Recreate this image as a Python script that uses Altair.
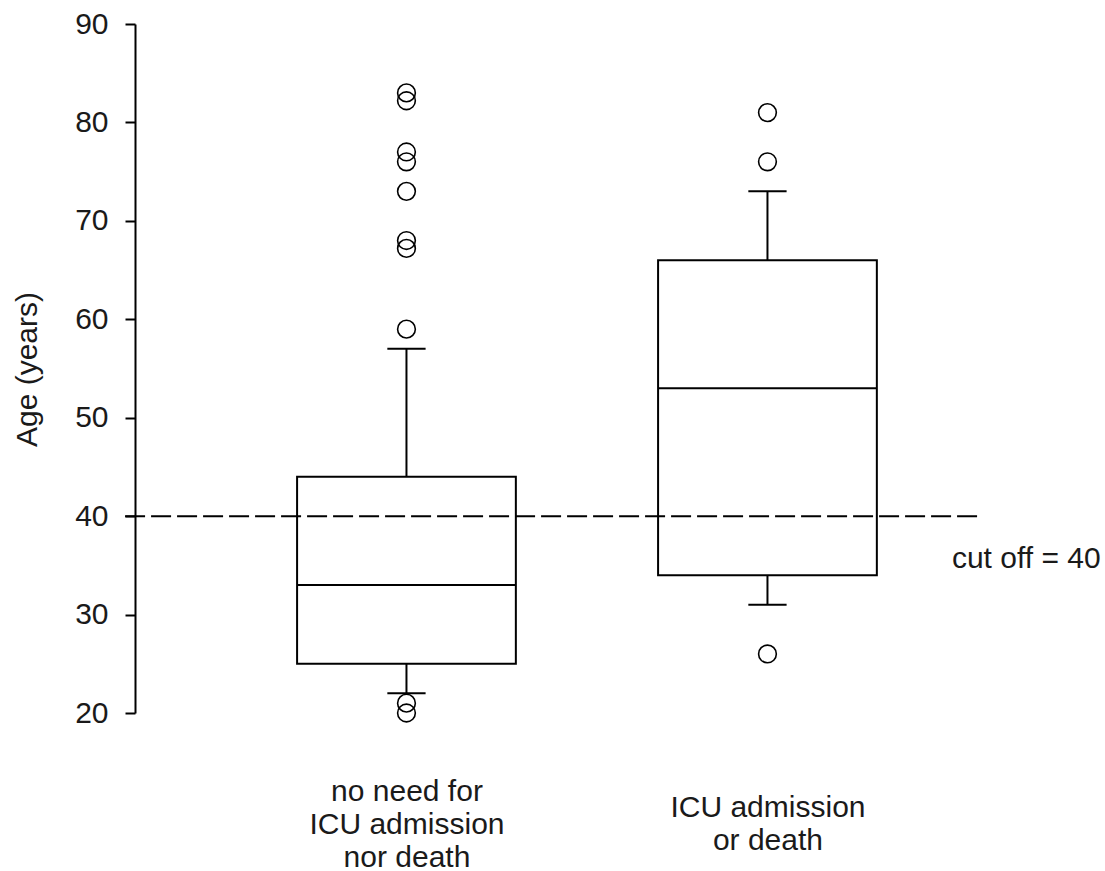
import json
import altair as alt
import pandas as pd

# Two outcome groups, with their axis label lines
groups = ["no need for ICU admission nor death", "ICU admission or death"]
group_lines = [["no need for", "ICU admission", "nor death"], ["ICU admission", "or death"]]

# Box-plot statistics (age, years)
q1 = [25, 34]
median = [33, 53]
q3 = [44, 66]
whisker_low = [22, 31]
whisker_high = [57, 73]
outliers = [
    [83, 82.2, 77, 76, 73, 68, 67.2, 59, 21, 20],
    [81, 76, 26],
]

cutoff = 40
cutoff_label = "cut off = 40"
y_ticks = [20, 30, 40, 50, 60, 70, 80, 90]

# Geometry in x-scale units (groups sit at 1 and 2)
BOX_HALF = 0.303
CAP_HALF = 0.053
X_DOMAIN = [0.248, 2.935]
CUT_SPAN = [0.2205, 2.597]
CUT_LABEL_X = 2.511

FONT = "Liberation Sans"
FONT_SIZE = 30
LINE_HEIGHT = 33
INK = "#1a1a1a"

positions = [i + 1 for i in range(len(groups))]
stats = pd.DataFrame({
    "group": groups,
    "pos": positions,
    "left": [p - BOX_HALF for p in positions],
    "right": [p + BOX_HALF for p in positions],
    "cap_l": [p - CAP_HALF for p in positions],
    "cap_r": [p + CAP_HALF for p in positions],
    "q1": q1,
    "median": median,
    "q3": q3,
    "lo": whisker_low,
    "hi": whisker_high,
})
points = pd.DataFrame(
    [{"group": g, "pos": p, "age": v} for g, p, vals in zip(groups, positions, outliers) for v in vals]
)

# Multi-line category labels, each block centred on the same line below the plot
label_expr = " : ".join(
    f"datum.value == {p} ? {json.dumps(lines)}" for p, lines in zip(positions[:-1], group_lines[:-1])
) + f" : {json.dumps(group_lines[-1])}"
LABEL_CENTRE = 111
pads = [LABEL_CENTRE - (len(lines) - 1) * LINE_HEIGHT / 2 for lines in group_lines]
label_padding = {
    "condition": {"test": f"datum.value == {positions[0]}", "value": pads[0]},
    "value": pads[1],
}

x_scale = alt.Scale(domain=X_DOMAIN, nice=False, zero=False)
x_axis = alt.Axis(
    values=positions, labelExpr=label_expr, domain=False, ticks=False, grid=False,
    labelFont=FONT, labelFontSize=FONT_SIZE, labelColor=INK, labelLineHeight=LINE_HEIGHT,
    labelBaseline="middle", labelAlign="center", labelPadding=label_padding,
    labelFlush=False, labelOverlap=False, labelLimit=600, title=None,
)
y_scale = alt.Scale(domain=[20, 90], nice=False, zero=False)
y_axis = alt.Axis(
    values=y_ticks, grid=False,
    domainColor="black", domainWidth=2, tickColor="black", tickWidth=2, tickSize=10,
    labelFont=FONT, labelFontSize=FONT_SIZE, labelColor=INK, labelPadding=17,
    title="Age (years)", titleFont=FONT, titleFontSize=FONT_SIZE, titleFontWeight="normal",
    titleColor=INK, titleAngle=270, titleX=-108, titleY=345,
    titleAlign="center", titleBaseline="middle",
)


def X(field, **kw):
    return alt.X(field, scale=x_scale, axis=x_axis, **kw)


def Y(field, **kw):
    return alt.Y(field, scale=y_scale, axis=y_axis, **kw)


base = alt.Chart(stats)

boxes = base.mark_rect(fill="transparent", stroke="black", strokeWidth=2).encode(
    x=X("left:Q"), x2="right:Q", y=Y("q1:Q"), y2="q3:Q"
)
medians = base.mark_rule(color="black", strokeWidth=2).encode(
    x=X("left:Q"), x2="right:Q", y=Y("median:Q")
)
upper = base.mark_rule(color="black", strokeWidth=2).encode(
    x=X("pos:Q"), y=Y("q3:Q"), y2="hi:Q"
)
lower = base.mark_rule(color="black", strokeWidth=2).encode(
    x=X("pos:Q"), y=Y("lo:Q"), y2="q1:Q"
)
cap_hi = base.mark_rule(color="black", strokeWidth=2).encode(
    x=X("cap_l:Q"), x2="cap_r:Q", y=Y("hi:Q")
)
cap_lo = base.mark_rule(color="black", strokeWidth=2).encode(
    x=X("cap_l:Q"), x2="cap_r:Q", y=Y("lo:Q")
)
dots = alt.Chart(points).mark_point(
    shape="circle", filled=False, size=314, strokeWidth=1.6, color="black", opacity=1
).encode(x=X("pos:Q"), y=Y("age:Q"))

cut_line = alt.Chart(pd.DataFrame({"y": [cutoff]})).mark_rule(
    color="black", strokeWidth=2, strokeDash=[20, 6]
).encode(
    x=alt.X(datum=CUT_SPAN[0], scale=x_scale, axis=x_axis),
    x2=alt.datum(CUT_SPAN[1]),
    y=Y("y:Q"),
)
cut_text = alt.Chart(pd.DataFrame({"y": [cutoff], "t": [cutoff_label]})).mark_text(
    align="left", baseline="alphabetic", dy=52, font=FONT, fontSize=FONT_SIZE, color=INK
).encode(
    x=alt.X(datum=CUT_LABEL_X, scale=x_scale, axis=x_axis),
    y=Y("y:Q"),
    text="t:N",
)

chart = alt.layer(
    boxes, medians, upper, lower, cap_hi, cap_lo, cut_line, dots, cut_text
).properties(
    width=970, height=689,
    autosize=alt.AutoSizeParams(type="none"),
    padding={"left": 135, "top": 24, "right": 0, "bottom": 158},
    background="white",
).configure_view(stroke=None)

chart.save("out.html", embed_options={"renderer": "svg", "actions": False})
